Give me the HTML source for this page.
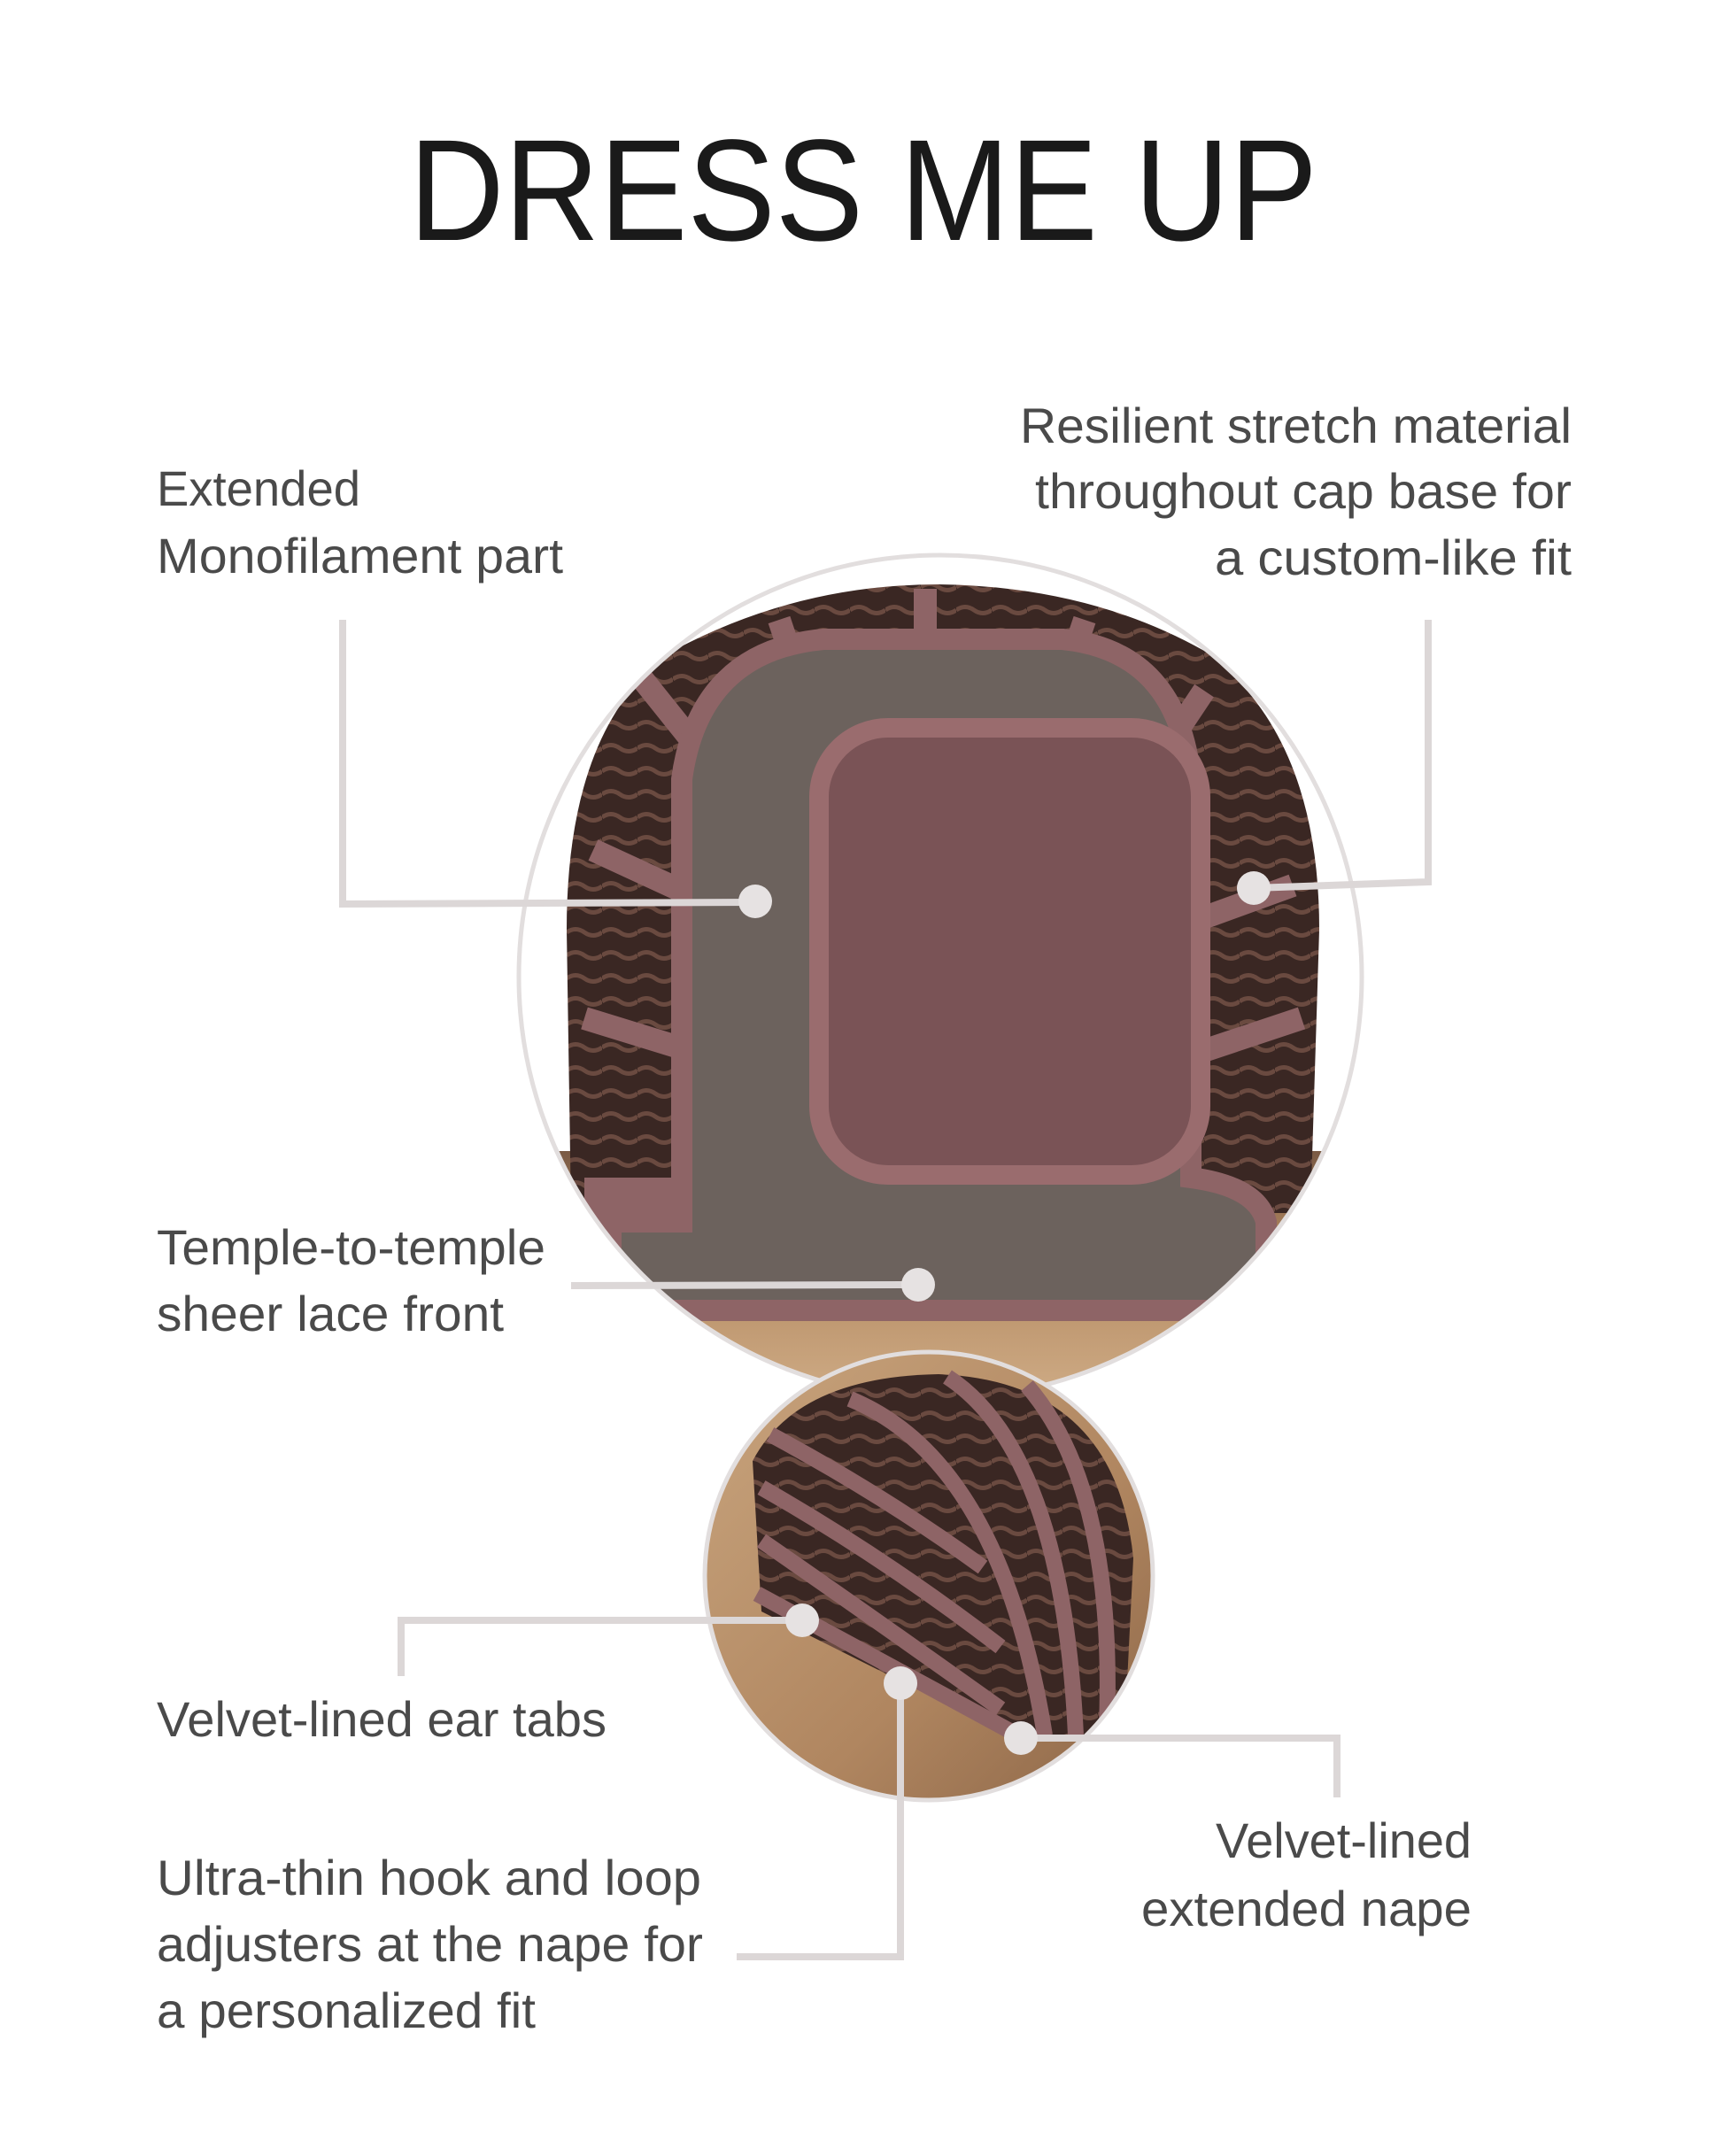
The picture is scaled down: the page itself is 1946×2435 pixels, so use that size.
<!DOCTYPE html>
<html><head><meta charset="utf-8"><style>
html,body{margin:0;padding:0;background:#fff;}
svg{display:block}
text{font-family:"Liberation Sans",sans-serif;fill:#4a4a4a}
</style></head><body>
<svg width="1946" height="2435" viewBox="0 0 1946 2435" xmlns="http://www.w3.org/2000/svg">
<defs>
<clipPath id="c1"><circle cx="1062" cy="1103" r="474"/></clipPath>
<clipPath id="c2"><circle cx="1049" cy="1780" r="251"/></clipPath>
<linearGradient id="hair" x1="0" y1="0" x2="0" y2="1">
<stop offset="0" stop-color="#7a5a44"/><stop offset="0.4" stop-color="#b48a62"/><stop offset="1" stop-color="#d2b08a"/></linearGradient>
<linearGradient id="hair2" x1="0" y1="0" x2="1" y2="1">
<stop offset="0" stop-color="#c9a57e"/><stop offset="0.6" stop-color="#b08660"/><stop offset="1" stop-color="#8a6446"/></linearGradient>
<pattern id="rows" width="40" height="26" patternUnits="userSpaceOnUse">
<rect width="40" height="26" fill="#3a2723"/><path d="M0 13 Q10 6 20 13 T40 13" stroke="#6a4a40" stroke-width="5" fill="none"/></pattern>
</defs>

<text x="462" y="271" font-size="163" textLength="1026" lengthAdjust="spacingAndGlyphs" style="fill:#1a1a1a">DRESS ME UP</text>

<!-- big circle -->
<g clip-path="url(#c1)">
<rect x="600" y="1300" width="900" height="300" fill="url(#hair)"/>
<path d="M645 1370 L640 1050 Q640 820 760 735 Q900 660 1060 660 Q1230 662 1360 735 Q1490 830 1490 1050 L1480 1370 Z" fill="url(#rows)"/>
<g stroke="#8e6466" stroke-width="26" fill="none">
<path d="M670 960 L800 1020"/><path d="M660 1150 L790 1190"/>
<path d="M1460 1000 L1350 1040"/><path d="M1470 1150 L1350 1190"/>
<path d="M720 760 L800 860"/><path d="M1360 780 L1300 870"/>
<path d="M1045 665 L1045 720"/><path d="M880 700 L900 760"/><path d="M1225 700 L1205 760"/>
</g>
<path d="M770 1380 L770 880 Q790 735 930 722 L1200 722 Q1330 735 1345 880 L1345 1330 Q1420 1340 1430 1380 L1430 1480 L690 1480 L690 1380 Z" fill="#6c625d" stroke="#8e6466" stroke-width="24"/>
<rect x="925" y="822" width="431" height="505" rx="78" fill="#7a5356" stroke="#9a6c6e" stroke-width="22"/>
<path d="M660 1330 L770 1330 L770 1390 L660 1390 Z" fill="#8e6466"/>
</g>
<circle cx="1062" cy="1103" r="476" fill="none" stroke="#e2dede" stroke-width="5"/>

<!-- small circle -->
<g clip-path="url(#c2)">
<rect x="790" y="1520" width="520" height="520" fill="url(#hair2)"/>
<path d="M850 1650 Q900 1555 1060 1552 Q1260 1560 1280 1760 L1270 1960 L1140 1960 L860 1820 Z" fill="url(#rows)"/>
<g stroke="#8e6466" stroke-width="18" fill="none">
<path d="M870 1620 Q1000 1690 1110 1770"/><path d="M860 1680 Q1000 1760 1130 1860"/>
<path d="M860 1740 Q990 1830 1130 1930"/><path d="M960 1580 Q1130 1650 1180 1960"/>
<path d="M1070 1555 Q1200 1640 1215 1960"/><path d="M1160 1565 Q1260 1680 1250 1950"/>
<path d="M855 1800 L1150 1960"/>
</g>
</g>
<circle cx="1049" cy="1780" r="253" fill="none" stroke="#e2dede" stroke-width="5"/>

<!-- connectors -->
<g stroke="#dcd7d7" stroke-width="8" fill="none">
<polyline points="387,700 387,1021 853,1019"/>
<polyline points="1613,700 1613,996 1416,1003"/>
<polyline points="645,1452 1037,1451"/>
<polyline points="453,1893 453,1830 906,1830"/>
<polyline points="1017,1901 1017,2210 832,2210"/>
<polyline points="1153,1963 1510,1963 1510,2030"/>
</g>
<g fill="#e6e2e2">
<circle cx="853" cy="1018" r="19"/><circle cx="1416" cy="1003" r="19"/>
<circle cx="1037" cy="1451" r="19"/><circle cx="906" cy="1830" r="19"/>
<circle cx="1017" cy="1901" r="19"/><circle cx="1153" cy="1963" r="19"/>
</g>

<!-- labels -->
<g font-size="56" transform="translate(-4,-4)">
<text x="181" y="575" textLength="230" lengthAdjust="spacingAndGlyphs">Extended</text>
<text x="181" y="651" textLength="459" lengthAdjust="spacingAndGlyphs">Monofilament part</text>
<text x="1156" y="504" textLength="623" lengthAdjust="spacingAndGlyphs">Resilient stretch material</text>
<text x="1173" y="578" textLength="606" lengthAdjust="spacingAndGlyphs">throughout cap base for</text>
<text x="1376" y="653" textLength="403" lengthAdjust="spacingAndGlyphs">a custom-like fit</text>
<text x="181" y="1432" textLength="439" lengthAdjust="spacingAndGlyphs">Temple-to-temple</text>
<text x="181" y="1507" textLength="392" lengthAdjust="spacingAndGlyphs">sheer lace front</text>
<text x="181" y="1965" textLength="508" lengthAdjust="spacingAndGlyphs">Velvet-lined ear tabs</text>
<text x="181" y="2144" textLength="615" lengthAdjust="spacingAndGlyphs">Ultra-thin hook and loop</text>
<text x="181" y="2219" textLength="617" lengthAdjust="spacingAndGlyphs">adjusters at the nape for</text>
<text x="181" y="2294" textLength="428" lengthAdjust="spacingAndGlyphs">a personalized fit</text>
<text x="1377" y="2102" textLength="289" lengthAdjust="spacingAndGlyphs">Velvet-lined</text>
<text x="1293" y="2179" textLength="373" lengthAdjust="spacingAndGlyphs">extended nape</text>
</g>
</svg>
</body></html>
